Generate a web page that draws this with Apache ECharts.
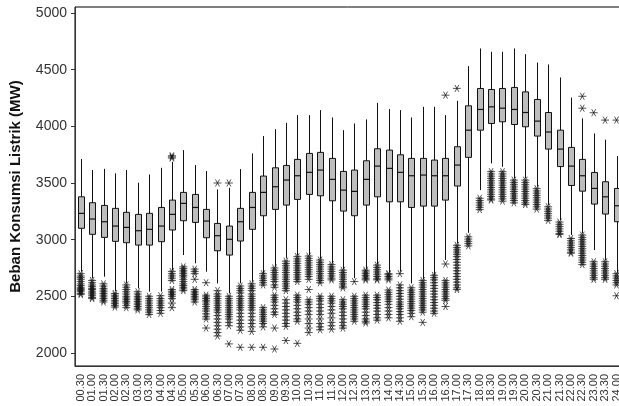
<!DOCTYPE html>
<html>
<head>
<meta charset="utf-8">
<script src="https://cdn.jsdelivr.net/npm/echarts@6/dist/echarts.min.js"></script>
<style>
  html, body { margin: 0; padding: 0; background: #fff; }
  #chart { width: 619px; height: 406px; }
</style>
</head>
<body>
<div id="chart"></div>
<script>
// Half-hourly time slots
const categories = [
  '00.30','01.00','01.30','02.00','02.30','03.00','03.30','04.00','04.30','05.00',
  '05.30','06.00','06.30','07.00','07.30','08.00','08.30','09.00','09.30','10.00',
  '10.30','11.00','11.30','12.00','12.30','13.00','13.30','14.00','14.30','15.00',
  '15.30','16.00','16.30','17.00','17.30','18.00','18.30','19.00','19.30','20.00',
  '20.30','21.00','21.30','22.00','22.30','23.00','23.30','24.00'
];

// Box statistics per slot (MW)
const whiskerLow = [
  2717, 2658, 2673, 2545, 2614, 2570, 2541, 2541, 2732, 2864,
  2791, 2717, 2614, 2526, 2614, 2629, 2702, 2760, 2835, 2860,
  2864, 2830, 2790, 2740, 2660, 2740, 2785, 2710, 2717, 2614,
  2650, 2690, 2820, 2967, 3060, 3437, 3673, 3643, 3540, 3540,
  3467, 3305, 3173, 3041, 3055, 2908, 2820, 2708
];
const quartile1 = [
  3100, 3047, 3020, 2985, 2973, 2952, 2952, 2982, 3085, 3167,
  3152, 3017, 2902, 2864, 2988, 3091, 3211, 3267, 3305, 3355,
  3399, 3387, 3343, 3252, 3211, 3305, 3378, 3334, 3334, 3284,
  3296, 3296, 3349, 3473, 3726, 3966, 4025, 4040, 4016, 3996,
  3914, 3799, 3645, 3478, 3428, 3314, 3226, 3158
];
const median = [
  3232, 3182, 3158, 3120, 3108, 3079, 3091, 3120, 3223, 3320,
  3284, 3164, 3035, 3003, 3158, 3284, 3417, 3467, 3526, 3564,
  3594, 3614, 3532, 3437, 3426, 3532, 3649, 3629, 3594, 3564,
  3570, 3564, 3564, 3658, 3966, 4149, 4172, 4160, 4149, 4122,
  4046, 3950, 3799, 3649, 3564, 3452, 3378, 3299
];
const quartile3 = [
  3378, 3326, 3302, 3276, 3241, 3223, 3232, 3284, 3349, 3417,
  3399, 3267, 3143, 3120, 3276, 3417, 3561, 3634, 3655, 3708,
  3761, 3770, 3717, 3602, 3614, 3696, 3802, 3790, 3749, 3717,
  3717, 3702, 3717, 3820, 4181, 4334, 4325, 4334, 4343, 4304,
  4237, 4122, 3966, 3814, 3708, 3593, 3511, 3452
];
const whiskerHigh = [
  3711, 3614, 3625, 3585, 3614, 3502, 3575, 3634, 3687, 3790,
  3658, 3605, 3443, 3458, 3623, 3761, 3914, 3975, 4031, 4099,
  4099, 4143, 4078, 3966, 4025, 4061, 4207, 4152, 4143, 4078,
  4172, 4172, 4099, 4225, 4531, 4687, 4658, 4658, 4687, 4637,
  4563, 4546, 4431, 4254, 4070, 3937, 3882, 3737
];

// Extreme values per slot (MW)
const outliers = [
  [2700, 2680, 2665, 2650, 2630, 2610, 2595, 2580, 2570, 2560, 2550, 2540, 2525, 2515],
  [2640, 2620, 2600, 2585, 2570, 2560, 2545, 2530, 2520, 2505, 2490, 2480],
  [2610, 2590, 2570, 2555, 2540, 2525, 2510, 2495, 2480, 2465, 2450],
  [2525, 2510, 2495, 2480, 2465, 2450, 2435, 2420, 2405],
  [2600, 2580, 2560, 2540, 2520, 2500, 2485, 2470, 2455, 2440, 2420, 2400],
  [2540, 2520, 2500, 2485, 2470, 2455, 2440, 2425, 2410, 2395, 2380],
  [2500, 2480, 2460, 2440, 2420, 2400, 2380, 2360, 2340],
  [2505, 2480, 2460, 2440, 2420, 2400, 2375, 2350],
  [3740, 3730, 3720, 2720, 2700, 2680, 2660, 2640, 2560, 2545, 2530, 2515, 2500, 2480, 2440, 2400],
  [2760, 2745, 2730, 2715, 2700, 2685, 2670, 2650, 2630, 2610, 2595, 2580, 2565, 2550],
  [2740, 2720, 2700, 2650, 2560, 2545, 2530, 2515, 2500, 2485, 2470, 2450],
  [2620, 2510, 2495, 2480, 2465, 2450, 2430, 2410, 2390, 2370, 2345, 2320, 2300, 2220],
  [3500, 2550, 2520, 2500, 2480, 2460, 2440, 2420, 2400, 2380, 2360, 2330, 2300, 2270, 2240, 2210, 2180, 2150],
  [3500, 2500, 2480, 2460, 2440, 2420, 2400, 2380, 2360, 2340, 2320, 2300, 2270, 2240, 2080],
  [2590, 2570, 2550, 2530, 2500, 2480, 2460, 2440, 2420, 2400, 2380, 2350, 2320, 2290, 2260, 2230, 2200, 2050],
  [2610, 2590, 2570, 2550, 2520, 2500, 2480, 2460, 2440, 2420, 2400, 2380, 2350, 2320, 2290, 2260, 2230, 2190, 2050],
  [2700, 2680, 2660, 2640, 2620, 2600, 2400, 2380, 2360, 2340, 2320, 2300, 2280, 2260, 2230, 2050],
  [2750, 2730, 2710, 2690, 2670, 2650, 2630, 2600, 2580, 2510, 2490, 2470, 2450, 2420, 2390, 2360, 2340, 2220, 2035],
  [2810, 2790, 2770, 2750, 2730, 2710, 2690, 2670, 2650, 2630, 2610, 2590, 2570, 2550, 2470, 2440, 2410, 2380, 2350, 2320, 2290, 2260, 2235, 2110],
  [2850, 2830, 2810, 2790, 2770, 2750, 2730, 2710, 2690, 2670, 2650, 2630, 2510, 2490, 2470, 2450, 2420, 2390, 2360, 2330, 2300, 2280, 2085],
  [2855, 2835, 2815, 2795, 2775, 2755, 2735, 2715, 2695, 2675, 2650, 2560, 2470, 2450, 2430, 2400, 2370, 2340, 2300, 2260, 2220, 2180],
  [2820, 2800, 2780, 2760, 2740, 2720, 2700, 2680, 2660, 2640, 2620, 2500, 2480, 2460, 2430, 2400, 2370, 2340, 2300, 2260, 2230, 2205],
  [2780, 2760, 2740, 2720, 2700, 2680, 2660, 2645, 2500, 2480, 2460, 2440, 2410, 2380, 2350, 2310, 2270, 2240, 2210],
  [2730, 2710, 2690, 2670, 2650, 2630, 2610, 2590, 2575, 2470, 2450, 2430, 2410, 2390, 2360, 2330, 2300, 2270, 2240, 2220],
  [2630, 2500, 2480, 2460, 2440, 2420, 2400, 2380, 2360, 2340, 2320, 2300, 2280],
  [2730, 2715, 2700, 2685, 2670, 2655, 2645, 2510, 2490, 2470, 2450, 2430, 2410, 2390, 2360, 2330, 2300, 2280, 2265],
  [2775, 2755, 2735, 2715, 2695, 2675, 2655, 2645, 2510, 2490, 2470, 2445, 2420, 2395, 2370, 2340, 2310, 2290],
  [2700, 2690, 2675, 2660, 2645, 2555, 2535, 2515, 2495, 2475, 2455, 2430, 2400, 2370, 2340, 2310],
  [2700, 2600, 2575, 2550, 2525, 2500, 2475, 2450, 2430, 2410, 2390, 2365, 2340, 2310, 2280],
  [2575, 2555, 2535, 2515, 2495, 2475, 2455, 2435, 2415, 2395, 2375, 2350, 2320],
  [2640, 2620, 2600, 2580, 2560, 2540, 2520, 2500, 2480, 2460, 2440, 2420, 2400, 2380, 2360, 2270],
  [2685, 2665, 2645, 2620, 2595, 2570, 2545, 2520, 2495, 2470, 2445, 2420, 2395, 2370, 2350],
  [4275, 2785, 2640, 2620, 2600, 2580, 2560, 2540, 2520, 2500, 2480, 2465, 2410],
  [4335, 2950, 2930, 2910, 2890, 2870, 2850, 2825, 2800, 2775, 2750, 2725, 2700, 2675, 2650, 2625, 2600, 2575, 2560],
  [3025, 3005, 2985, 2965, 2945],
  [3365, 3345, 3325, 3305, 3285, 3265],
  [3600, 3580, 3560, 3540, 3520, 3500, 3480, 3460, 3440, 3420, 3400, 3380, 3360, 3350],
  [3600, 3580, 3560, 3540, 3520, 3500, 3480, 3460, 3440, 3420, 3400, 3380, 3360, 3340],
  [3525, 3505, 3485, 3465, 3445, 3425, 3405, 3385, 3365, 3345, 3325],
  [3525, 3505, 3485, 3465, 3445, 3425, 3405, 3385, 3365, 3345, 3325, 3310],
  [3450, 3430, 3410, 3390, 3370, 3350, 3330, 3310, 3290, 3270],
  [3290, 3270, 3250, 3230, 3210, 3190, 3170],
  [3155, 3135, 3115, 3095, 3075, 3055, 3045],
  [3010, 2990, 2970, 2950, 2930, 2910, 2890, 2880],
  [4265, 4160, 3040, 3020, 3000, 2980, 2960, 2940, 2920, 2900, 2880, 2860, 2840, 2820, 2800, 2780],
  [4120, 2805, 2785, 2765, 2745, 2725, 2705, 2685, 2665, 2650],
  [4055, 2805, 2785, 2765, 2745, 2725, 2705, 2685, 2665, 2650],
  [4055, 2700, 2680, 2660, 2640, 2620, 2600, 2505]
];

// Y-axis tick values
const yTicks = [2000, 2500, 3000, 3500, 4000, 4500, 5000];

const boxData = categories.map((c, i) => [i, whiskerLow[i], quartile1[i], median[i], quartile3[i], whiskerHigh[i]]);
const outlierData = [];
outliers.forEach((list, i) => list.forEach(v => outlierData.push([i, v])));

const FONT = '"Liberation Sans", Arial, sans-serif';

// Six-armed asterisk: horizontal bar plus two diagonals
const asterisk = 'path://M0,5L10,5M2.5,0.67L7.5,9.33M2.5,9.33L7.5,0.67';

function renderBox(params, api) {
  const i = api.value(0);
  const x = Math.round(api.coord([i, 0])[0]) + 0.5;
  const yLo = api.coord([i, api.value(1)])[1];
  const yQ1 = api.coord([i, api.value(2)])[1];
  const yMed = api.coord([i, api.value(3)])[1];
  const yQ3 = api.coord([i, api.value(4)])[1];
  const yHi = api.coord([i, api.value(5)])[1];
  const w = 5;
  const line = { stroke: '#111', lineWidth: 1 };
  return {
    type: 'group',
    children: [
      { type: 'line', shape: { x1: x, y1: yHi, x2: x, y2: yQ3 }, style: line },
      { type: 'line', shape: { x1: x, y1: yQ1, x2: x, y2: yLo }, style: line },
      { type: 'rect', shape: { x: x - w / 2 - 0.5, y: yQ3, width: w + 1, height: yQ1 - yQ3 },
        style: { fill: '#bdbdbd', stroke: '#111', lineWidth: 1 } },
      { type: 'line', shape: { x1: x - w / 2 - 0.5, y1: yMed, x2: x + w / 2 + 0.5, y2: yMed },
        style: { stroke: '#111', lineWidth: 1.2 } }
    ]
  };
}

const chart = echarts.init(document.getElementById('chart'), null, { renderer: 'canvas' });
chart.setOption({
  animation: false,
  backgroundColor: '#fff',
  grid: {
    left: 75, top: 7, width: 547.2, height: 359,
    outerBoundsMode: 'none',
    containLabel: false,
    show: true, borderColor: '#000', borderWidth: 1, backgroundColor: 'transparent'
  },
  xAxis: {
    type: 'category',
    data: categories,
    boundaryGap: true,
    axisLine: { lineStyle: { color: '#333', width: 1 } },
    axisTick: { alignWithLabel: true, length: 5, interval: 0, lineStyle: { color: '#333' } },
    axisLabel: {
      rotate: 90, interval: 0, margin: 8,
      fontFamily: FONT, fontSize: 11, color: '#333'
    },
    splitLine: { show: false }
  },
  yAxis: {
    type: 'value',
    min: 1885, max: 5053,
    name: 'Beban Konsumsi Listrik (MW)',
    nameLocation: 'middle',
    nameGap: 52,
    nameTextStyle: { fontFamily: FONT, fontSize: 15, fontWeight: 'bold', color: '#111' },
    axisLine: { show: true, lineStyle: { color: '#333', width: 1 } },
    axisTick: { show: true, length: 4, customValues: yTicks, lineStyle: { color: '#333' } },
    axisLabel: {
      customValues: yTicks, margin: 8, fontFamily: FONT, fontSize: 14, color: '#333',
      formatter: v => String(v)
    },
    splitLine: { show: false }
  },
  series: [
    {
      type: 'custom',
      renderItem: renderBox,
      data: boxData,
      encode: { x: 0, y: [1, 2, 3, 4, 5] },
      clip: false,
      z: 2
    },
    {
      type: 'scatter',
      data: outlierData,
      symbol: asterisk,
      symbolSize: [8, 7],
      itemStyle: { color: 'transparent', borderColor: '#111', borderWidth: 0.9 },
      z: 3
    }
  ]
});
</script>
</body>
</html>
